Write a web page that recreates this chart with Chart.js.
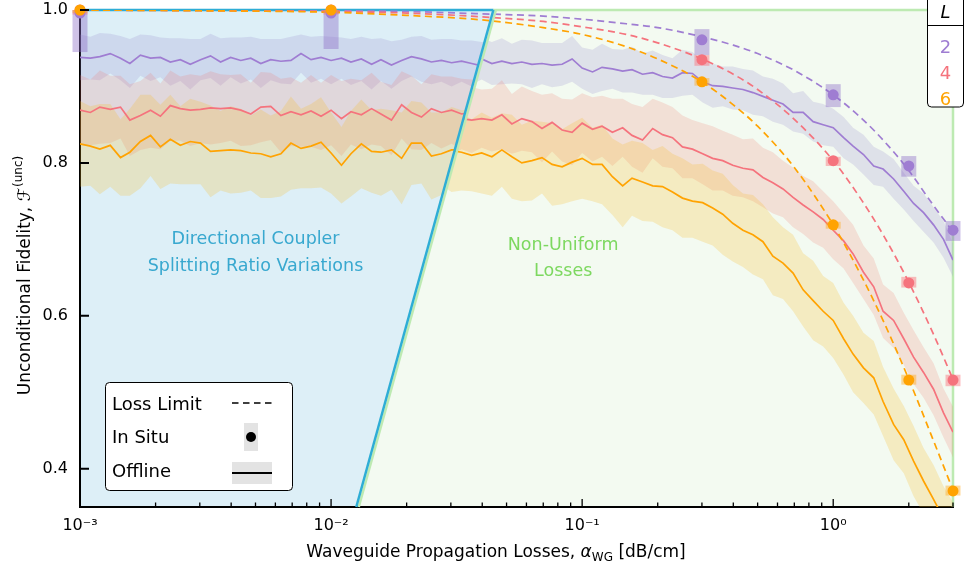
<!DOCTYPE html>
<html>
<head>
<meta charset="utf-8">
<title>Unconditional fidelity vs waveguide propagation losses</title>
<script src="https://cdn.jsdelivr.net/npm/chart.js@4.4.0/dist/chart.umd.min.js"></script>
<style>
  html, body { margin: 0; padding: 0; background: #fff; }
  canvas { display: block; }
</style>
</head>
<body>
<canvas id="fidelityChart" width="966" height="570"></canvas>
<script>
// ---- data -----------------------------------------------------------------

// offline sweep, directional coupler splitting ratio variations (dB/cm)
const alphaLeft = [0.00100, 0.00110, 0.00120, 0.00132, 0.00145, 0.00158, 0.00174, 0.00191, 0.00209, 0.00229,
  0.00251, 0.00275, 0.00302, 0.00331, 0.00363, 0.00398, 0.00437, 0.00479, 0.00525, 0.00575,
  0.00631, 0.00692, 0.00759, 0.00832, 0.00912, 0.0100, 0.0110, 0.0120, 0.0132, 0.0145,
  0.0158, 0.0174, 0.0191, 0.0209, 0.0229, 0.0251, 0.0275, 0.0302, 0.0331, 0.0363,
  0.0398, 0.0437];

// offline sweep, non-uniform losses (dB/cm)
const alphaRight = [0.0251, 0.0275, 0.0302, 0.0331, 0.0363, 0.0398, 0.0437, 0.0479, 0.0525, 0.0575,
  0.0631, 0.0692, 0.0759, 0.0832, 0.0912, 0.100, 0.110, 0.120, 0.132, 0.145,
  0.158, 0.174, 0.191, 0.209, 0.229, 0.251, 0.275, 0.302, 0.331, 0.363,
  0.398, 0.437, 0.479, 0.525, 0.575, 0.631, 0.692, 0.759, 0.832, 0.912,
  1.00, 1.10, 1.20, 1.32, 1.45, 1.58, 1.74, 1.91, 2.09, 2.29,
  2.51, 2.75, 3.00];

const purpleLeftMean = [0.938, 0.937, 0.939, 0.943, 0.937, 0.930, 0.941, 0.937, 0.938, 0.932,
  0.935, 0.929, 0.935, 0.940, 0.932, 0.938, 0.934, 0.937, 0.930, 0.935,
  0.933, 0.934, 0.943, 0.935, 0.938, 0.934, 0.937, 0.932, 0.936, 0.929,
  0.935, 0.928, 0.934, 0.939, 0.936, 0.932, 0.934, 0.931, 0.933, 0.930,
  0.927, 0.929];
const purpleLeftSd = [0.030, 0.028, 0.031, 0.026, 0.029, 0.032, 0.027, 0.030, 0.026, 0.031,
  0.028, 0.033, 0.027, 0.029, 0.031, 0.026, 0.030, 0.028, 0.032, 0.027,
  0.029, 0.031, 0.025, 0.030, 0.028, 0.031, 0.027, 0.030, 0.029, 0.033,
  0.028, 0.031, 0.027, 0.026, 0.030, 0.029, 0.028, 0.031, 0.027, 0.030,
  0.031, 0.029];

const pinkLeftMean = [0.869, 0.866, 0.873, 0.870, 0.873, 0.856, 0.862, 0.869, 0.861, 0.875,
  0.871, 0.869, 0.870, 0.872, 0.871, 0.872, 0.869, 0.864, 0.873, 0.874,
  0.862, 0.867, 0.863, 0.868, 0.861, 0.869, 0.858, 0.867, 0.863, 0.871,
  0.864, 0.856, 0.876, 0.866, 0.860, 0.871, 0.866, 0.869, 0.864, 0.866,
  0.862, 0.865];
const pinkLeftSd = [0.046, 0.043, 0.048, 0.044, 0.041, 0.047, 0.045, 0.049, 0.043, 0.046,
  0.042, 0.047, 0.044, 0.048, 0.045, 0.043, 0.047, 0.041, 0.046, 0.044,
  0.048, 0.045, 0.042, 0.047, 0.044, 0.046, 0.049, 0.043, 0.045, 0.047,
  0.042, 0.046, 0.044, 0.048, 0.043, 0.045, 0.047, 0.044, 0.046, 0.043,
  0.045, 0.044];

const orangeLeftMean = [0.825, 0.822, 0.818, 0.823, 0.807, 0.814, 0.828, 0.836, 0.821, 0.831,
  0.823, 0.828, 0.826, 0.815, 0.816, 0.817, 0.816, 0.813, 0.812, 0.808,
  0.812, 0.826, 0.819, 0.822, 0.827, 0.813, 0.797, 0.812, 0.825, 0.815,
  0.814, 0.817, 0.806, 0.826, 0.826, 0.809, 0.812, 0.817, 0.817, 0.815,
  0.812, 0.814];
const orangeLeftSd = [0.056, 0.052, 0.059, 0.054, 0.050, 0.057, 0.061, 0.053, 0.055, 0.058,
  0.051, 0.056, 0.054, 0.060, 0.052, 0.057, 0.055, 0.049, 0.058, 0.054,
  0.056, 0.061, 0.052, 0.055, 0.059, 0.053, 0.050, 0.056, 0.058, 0.054,
  0.057, 0.052, 0.060, 0.055, 0.053, 0.057, 0.054, 0.056, 0.052, 0.055,
  0.057, 0.054];

const purpleRightMean = [0.935, 0.933, 0.936, 0.932, 0.934, 0.936, 0.930, 0.933, 0.930, 0.932,
  0.929, 0.930, 0.928, 0.929, 0.936, 0.924, 0.919, 0.925, 0.923, 0.920,
  0.922, 0.916, 0.918, 0.913, 0.911, 0.918, 0.917, 0.906, 0.901, 0.900,
  0.898, 0.896, 0.892, 0.887, 0.882, 0.877, 0.866, 0.866, 0.854, 0.850,
  0.846, 0.833, 0.822, 0.811, 0.796, 0.792, 0.779, 0.763, 0.747, 0.735,
  0.719, 0.700, 0.673];
const purpleRightSd = [0.028, 0.030, 0.027, 0.029, 0.031, 0.027, 0.028, 0.030, 0.026, 0.029,
  0.031, 0.027, 0.029, 0.028, 0.030, 0.027, 0.029, 0.031, 0.026, 0.028,
  0.030, 0.027, 0.029, 0.028, 0.026, 0.030, 0.028, 0.027, 0.029, 0.026,
  0.028, 0.027, 0.029, 0.026, 0.028, 0.027, 0.025, 0.028, 0.026, 0.027,
  0.025, 0.027, 0.024, 0.026, 0.025, 0.023, 0.026, 0.024, 0.023, 0.025,
  0.023, 0.024, 0.022];

const pinkRightMean = [0.857, 0.862, 0.855, 0.858, 0.856, 0.858, 0.856, 0.863, 0.851, 0.858,
  0.854, 0.845, 0.853, 0.843, 0.840, 0.852, 0.844, 0.848, 0.840, 0.846,
  0.836, 0.830, 0.845, 0.837, 0.833, 0.821, 0.818, 0.812, 0.806, 0.803,
  0.797, 0.793, 0.791, 0.781, 0.774, 0.766, 0.755, 0.745, 0.736, 0.726,
  0.712, 0.698, 0.681, 0.657, 0.638, 0.606, 0.594, 0.570, 0.546, 0.526,
  0.504, 0.473, 0.448];
const pinkRightSd = [0.042, 0.039, 0.044, 0.040, 0.043, 0.038, 0.041, 0.045, 0.039, 0.042,
  0.040, 0.044, 0.038, 0.041, 0.043, 0.039, 0.042, 0.040, 0.044, 0.038,
  0.041, 0.043, 0.039, 0.042, 0.040, 0.041, 0.038, 0.040, 0.042, 0.039,
  0.040, 0.038, 0.041, 0.039, 0.040, 0.037, 0.039, 0.038, 0.040, 0.037,
  0.038, 0.036, 0.038, 0.035, 0.037, 0.035, 0.036, 0.034, 0.035, 0.033,
  0.034, 0.032, 0.033];

const orangeRightMean = [0.818, 0.820, 0.816, 0.814, 0.810, 0.813, 0.808, 0.817, 0.808, 0.800,
  0.803, 0.807, 0.798, 0.795, 0.801, 0.806, 0.798, 0.798, 0.782, 0.770,
  0.780, 0.775, 0.770, 0.769, 0.762, 0.754, 0.750, 0.748, 0.741, 0.733,
  0.721, 0.712, 0.706, 0.697, 0.678, 0.669, 0.656, 0.634, 0.620, 0.606,
  0.594, 0.570, 0.550, 0.532, 0.519, 0.488, 0.458, 0.438, 0.410, 0.384,
  0.360, 0.335, 0.312];
const orangeRightSd = [0.052, 0.049, 0.054, 0.050, 0.047, 0.053, 0.051, 0.048, 0.055, 0.050,
  0.052, 0.047, 0.054, 0.049, 0.051, 0.053, 0.048, 0.052, 0.050, 0.054,
  0.049, 0.051, 0.047, 0.053, 0.050, 0.052, 0.048, 0.051, 0.049, 0.053,
  0.050, 0.048, 0.052, 0.049, 0.051, 0.047, 0.050, 0.048, 0.052, 0.046,
  0.049, 0.047, 0.050, 0.046, 0.048, 0.045, 0.047, 0.044, 0.046, 0.043,
  0.045, 0.042, 0.044];

// loss limit (dashed)
const limitAlpha = [0.001, 0.003, 0.01, 0.02, 0.04, 0.07, 0.1, 0.15, 0.2, 0.3, 0.4, 0.5, 0.7, 1.0, 1.3, 1.6, 2.0, 2.5, 3.0];
const limitL2 = [1.000, 1.000, 0.999, 0.998, 0.995, 0.992, 0.988, 0.982, 0.977, 0.965, 0.954, 0.943, 0.921, 0.889, 0.858, 0.828, 0.790, 0.745, 0.710];
const limitL4 = [1.000, 0.999, 0.998, 0.996, 0.991, 0.985, 0.978, 0.968, 0.957, 0.936, 0.916, 0.896, 0.857, 0.803, 0.751, 0.703, 0.644, 0.577, 0.517];
const limitL6 = [1.000, 0.999, 0.997, 0.993, 0.987, 0.977, 0.968, 0.952, 0.936, 0.906, 0.876, 0.848, 0.794, 0.719, 0.651, 0.590, 0.517, 0.438, 0.372];

// in situ measurements with their spread
const insituAlpha = [0.001, 0.01, 0.3, 1, 2, 3];
const insituL2 = [0.996, 0.996, 0.961, 0.889, 0.796, 0.712];
const insituL2Lo = [0.945, 0.949, 0.941, 0.873, 0.782, 0.698];
const insituL2Hi = [1.000, 1.000, 0.975, 0.903, 0.809, 0.724];
const insituL4 = [1.000, 1.000, 0.935, 0.803, 0.643, 0.516];
const insituL4Lo = [0.994, 0.994, 0.927, 0.796, 0.637, 0.508];
const insituL4Hi = [1.000, 1.000, 0.941, 0.808, 0.651, 0.523];
const insituL6 = [1.000, 1.000, 0.906, 0.719, 0.516, 0.371];
const insituL6Lo = [0.996, 0.996, 0.901, 0.714, 0.510, 0.365];
const insituL6Hi = [1.000, 1.000, 0.911, 0.723, 0.523, 0.378];

// regions: edge between the two shaded areas
const edgeAlphaTop = 0.0443;
const edgeAlphaBottom = 0.0126;

const xTickValues = [0.001, 0.01, 0.1, 1];
const xTickLabels = ['10\u207B\u00B3', '10\u207B\u00B2', '10\u207B\u00B9', '10\u2070'];
const yTickValues = [0.4, 0.6, 0.8, 1.0];

// ---- styling ----------------------------------------------------------------
const FONT = "'DejaVu Sans', sans-serif";
Chart.defaults.font.family = FONT;
Chart.defaults.font.size = 16;
Chart.defaults.color = '#000';

const blueFill = '#ddeff7', blueEdge = '#2eadd5', blueText = '#38a8cf';
const greenFill = '#f3faf1', greenEdge = '#bdeab2', greenText = '#7dd860';

const series = [
  { L: '2', color: '#9f7dd2', band: 'rgba(150,135,205,0.22)', rect: 'rgba(140,110,200,0.42)',
    meanLeft: purpleLeftMean, sdLeft: purpleLeftSd, meanRight: purpleRightMean, sdRight: purpleRightSd,
    limit: limitL2, insitu: insituL2, lo: insituL2Lo, hi: insituL2Hi },
  { L: '4', color: '#f5737d', band: 'rgba(240,120,110,0.2)', rect: 'rgba(250,110,120,0.45)',
    meanLeft: pinkLeftMean, sdLeft: pinkLeftSd, meanRight: pinkRightMean, sdRight: pinkRightSd,
    limit: limitL4, insitu: insituL4, lo: insituL4Lo, hi: insituL4Hi },
  { L: '6', color: '#ffa302', band: 'rgba(245,190,40,0.24)', rect: 'rgba(255,170,30,0.45)',
    meanLeft: orangeLeftMean, sdLeft: orangeLeftSd, meanRight: orangeRightMean, sdRight: orangeRightSd,
    limit: limitL6, insitu: insituL6, lo: insituL6Lo, hi: insituL6Hi }
];

// ---- region helpers -----------------------------------------------------------
function regionPath(chart, region) {
  const x = chart.scales.x, y = chart.scales.y, ctx = chart.ctx;
  const xl = x.getPixelForValue(x.min), xr = x.getPixelForValue(x.max);
  const xt = x.getPixelForValue(edgeAlphaTop), xb = x.getPixelForValue(edgeAlphaBottom);
  const yt = y.getPixelForValue(y.max), yb = y.getPixelForValue(y.min);
  ctx.beginPath();
  if (region === 'dc') {
    ctx.moveTo(xl, yb); ctx.lineTo(xl, yt); ctx.lineTo(xt, yt); ctx.lineTo(xb, yb);
  } else {
    ctx.moveTo(xb, yb); ctx.lineTo(xt, yt); ctx.lineTo(xr, yt); ctx.lineTo(xr, yb);
  }
  ctx.closePath();
}

// clips the offline sweeps to their region (must run before the filler)
const regionClip = {
  id: 'regionClip',
  beforeDatasetDraw(chart, args) {
    const ds = chart.data.datasets[args.index];
    if (!ds.region) return;
    chart.ctx.save();
    regionPath(chart, ds.region);
    chart.ctx.clip();
  },
  afterDatasetDraw(chart, args) {
    if (chart.data.datasets[args.index].region) chart.ctx.restore();
  }
};
Chart.unregister(Chart.Filler);
Chart.register(regionClip, Chart.Filler);

const decor = {
  id: 'decor',
  beforeDraw(chart) {
    const ctx = chart.ctx;
    ctx.save();
    regionPath(chart, 'nu'); ctx.fillStyle = greenFill; ctx.fill();
    regionPath(chart, 'dc'); ctx.fillStyle = blueFill; ctx.fill();
    ctx.restore();
  },
  beforeDatasetsDraw(chart) {
    const {ctx, chartArea: a} = chart;
    const xt = chart.scales.x.getPixelForValue(edgeAlphaTop);
    ctx.save();
    ctx.lineWidth = 2.5;
    ctx.strokeStyle = greenEdge;
    ctx.beginPath(); ctx.moveTo(xt, a.top); ctx.lineTo(a.right, a.top); ctx.lineTo(a.right, a.bottom); ctx.stroke();
    ctx.strokeStyle = blueEdge;
    ctx.beginPath(); ctx.moveTo(a.left, a.top); ctx.lineTo(xt, a.top); ctx.stroke();
    ctx.restore();
  },
  afterDatasetsDraw(chart) {
    const {ctx, chartArea: a} = chart;
    const x = chart.scales.x;
    const xt = x.getPixelForValue(edgeAlphaTop), xb = x.getPixelForValue(edgeAlphaBottom);
    ctx.save();
    ctx.lineWidth = 2.5;
    ctx.strokeStyle = greenEdge;
    ctx.beginPath(); ctx.moveTo(xb + 2.5, a.bottom); ctx.lineTo(xt + 2.5, a.top); ctx.stroke();
    ctx.strokeStyle = blueEdge;
    ctx.beginPath(); ctx.moveTo(xb, a.bottom); ctx.lineTo(xt, a.top); ctx.stroke();
    ctx.restore();
  },
  afterDraw(chart) {
    const {ctx, chartArea: a} = chart;
    const xs = chart.scales.x, ys = chart.scales.y;
    ctx.save();

    // inward ticks
    ctx.strokeStyle = '#000';
    ctx.lineWidth = 1.3;
    ctx.beginPath();
    for (let e = -3; e <= 0; e++) {
      for (let m = 1; m <= 9; m++) {
        const v = m * Math.pow(10, e);
        if (v > xs.max + 1e-9) break;
        const px = xs.getPixelForValue(v);
        ctx.moveTo(px, a.bottom);
        ctx.lineTo(px, a.bottom - (m === 1 ? 8 : 4.5));
      }
    }
    ctx.stroke();
    ctx.lineWidth = 2;
    ctx.beginPath();
    yTickValues.forEach(v => {
      const py = ys.getPixelForValue(v);
      ctx.moveTo(a.left, py); ctx.lineTo(a.left + 9, py);
    });
    ctx.stroke();

    // x title
    ctx.fillStyle = '#000';
    ctx.textBaseline = 'alphabetic';
    ctx.textAlign = 'left';
    const t1 = 'Waveguide Propagation Losses, ', t3 = ' [dB/cm]';
    ctx.font = `17px ${FONT}`;
    const w1 = ctx.measureText(t1).width, w3 = ctx.measureText(t3).width;
    ctx.font = `italic 17px ${FONT}`;
    const wa = ctx.measureText('\u03B1').width;
    ctx.font = `12px ${FONT}`;
    const w2 = ctx.measureText('WG').width;
    let x0 = 496 - (w1 + wa + w2 + w3) / 2;
    const by = 557;
    ctx.font = `17px ${FONT}`; ctx.fillText(t1, x0, by); x0 += w1;
    ctx.font = `italic 17px ${FONT}`; ctx.fillText('\u03B1', x0, by); x0 += wa;
    ctx.font = `12px ${FONT}`; ctx.fillText('WG', x0, by + 4); x0 += w2;
    ctx.font = `17px ${FONT}`; ctx.fillText(t3, x0, by);

    // y title
    const m1 = 'Unconditional Fidelity, ', m2 = '\u2131', m3 = '(unc)';
    ctx.font = `17px ${FONT}`;
    const v1 = ctx.measureText(m1).width, v2 = ctx.measureText(m2).width;
    ctx.font = `12px ${FONT}`;
    const v3 = ctx.measureText(m3).width;
    ctx.save();
    ctx.translate(30, 276 + (v1 + v2 + v3) / 2);
    ctx.rotate(-Math.PI / 2);
    ctx.font = `17px ${FONT}`;
    ctx.fillText(m1, 0, 0);
    ctx.fillText(m2, v1, 0);
    ctx.font = `12px ${FONT}`;
    ctx.fillText(m3, v1 + v2 + 1, -8);
    ctx.restore();

    // region labels
    ctx.textAlign = 'center';
    ctx.font = `17.5px ${FONT}`;
    ctx.fillStyle = blueText;
    let lx = xs.getPixelForValue(0.0050), ly = ys.getPixelForValue(0.694);
    ctx.fillText('Directional Coupler', lx, ly);
    ctx.fillText('Splitting Ratio Variations', lx, ly + 27);
    ctx.fillStyle = greenText;
    lx = xs.getPixelForValue(0.084); ly = ys.getPixelForValue(0.686);
    ctx.fillText('Non-Uniform', lx, ly);
    ctx.fillText('Losses', lx, ly + 26);

    // method legend
    ctx.textAlign = 'left';
    ctx.fillStyle = '#fff';
    ctx.strokeStyle = '#000';
    ctx.lineWidth = 1;
    ctx.beginPath(); ctx.roundRect(105.5, 382.5, 187, 108, 4); ctx.fill(); ctx.stroke();
    ctx.fillStyle = '#000';
    ctx.font = `18px ${FONT}`;
    ctx.fillText('Loss Limit', 112, 410);
    ctx.fillText('In Situ', 112, 443);
    ctx.fillText('Offline', 112, 477);
    ctx.lineWidth = 1.5;
    ctx.setLineDash([6.5, 4.5]);
    ctx.beginPath(); ctx.moveTo(232, 403); ctx.lineTo(272, 403); ctx.stroke();
    ctx.setLineDash([]);
    ctx.fillStyle = '#e3e3e3';
    ctx.fillRect(244, 423, 14, 28);
    ctx.fillRect(232, 462, 40, 22);
    ctx.fillStyle = '#000';
    ctx.beginPath(); ctx.arc(251, 437, 5, 0, Math.PI * 2); ctx.fill();
    ctx.lineWidth = 2;
    ctx.beginPath(); ctx.moveTo(232, 473); ctx.lineTo(272, 473); ctx.stroke();

    // L legend
    ctx.lineWidth = 1;
    ctx.fillStyle = '#fff';
    ctx.beginPath(); ctx.roundRect(927.5, -6, 36, 113, 4); ctx.fill(); ctx.stroke();
    ctx.beginPath(); ctx.moveTo(927.5, 25.5); ctx.lineTo(963.5, 25.5); ctx.stroke();
    ctx.textAlign = 'center';
    ctx.fillStyle = '#000';
    ctx.font = `italic 18px ${FONT}`;
    ctx.fillText('L', 945.5, 18);
    ctx.font = `18px ${FONT}`;
    series.forEach((s, k) => {
      ctx.fillStyle = s.color;
      ctx.fillText(s.L, 945.5, 53 + 26 * k);
    });
    ctx.restore();
  }
};

// ---- datasets -----------------------------------------------------------------
const datasets = [];
series.forEach((s, k) => {
  [['dc', alphaLeft, s.meanLeft, s.sdLeft], ['nu', alphaRight, s.meanRight, s.sdRight]].forEach(([region, xs, mean, sd]) => {
    datasets.push({ type: 'line', region, data: xs.map((x, i) => ({x, y: mean[i] + sd[i]})),
      fill: '+1', backgroundColor: s.band, borderColor: 'transparent', borderWidth: 0, pointRadius: 0, order: 30 - k });
    datasets.push({ type: 'line', region, data: xs.map((x, i) => ({x, y: mean[i] - sd[i]})),
      fill: false, borderColor: 'transparent', borderWidth: 0, pointRadius: 0, order: 30 - k });
    datasets.push({ type: 'line', region, data: xs.map((x, i) => ({x, y: mean[i]})),
      fill: false, borderColor: s.color, borderWidth: 1.7, pointRadius: 0, order: 20 - k });
  });
  datasets.push({ type: 'line', data: limitAlpha.map((x, i) => ({x, y: s.limit[i]})),
    fill: false, borderColor: s.color, borderWidth: 1.7, borderDash: [7, 4.5], pointRadius: 0,
    cubicInterpolationMode: 'monotone', order: 10 - k });
  datasets.push({ type: 'bar', data: insituAlpha.map((x, i) => ({x, y: [s.lo[i], s.hi[i]]})),
    backgroundColor: s.rect, borderWidth: 0, maxBarThickness: 15, grouped: false, clip: false, order: 5 - k });
  datasets.push({ type: 'scatter', data: insituAlpha.map((x, i) => ({x, y: s.insitu[i]})),
    backgroundColor: s.color, pointBackgroundColor: s.color, borderWidth: 0, pointBorderWidth: 0,
    pointRadius: 5.5, showLine: false, clip: false, order: 2 - k });
});

new Chart(document.getElementById('fidelityChart'), {
  type: 'scatter',
  data: { datasets },
  plugins: [decor],
  options: {
    responsive: false,
    animation: false,
    events: [],
    layout: { autoPadding: false, padding: { top: 10, right: 13, left: 0, bottom: 0 } },
    plugins: { legend: { display: false }, tooltip: { enabled: false } },
    scales: {
      x: {
        type: 'logarithmic', min: 0.001, max: 3, offset: false,
        grid: { display: false, drawTicks: true, tickLength: 9 },
        border: { display: true, color: '#000', width: 2 },
        ticks: { autoSkip: false, maxRotation: 0, padding: 0, font: { size: 16 },
          callback: (v, i) => xTickLabels[i] },
        afterBuildTicks: s => { s.ticks = xTickValues.map(v => ({ value: v })); },
        afterFit: s => { s.height = 63; }
      },
      y: {
        min: 0.35, max: 1.0,
        grid: { display: false, drawTicks: true, tickLength: 12 },
        border: { display: true, color: '#000', width: 2 },
        ticks: { padding: 0, font: { size: 16 }, callback: v => v.toFixed(1) },
        afterBuildTicks: s => { s.ticks = yTickValues.map(v => ({ value: v })); },
        afterFit: s => { s.width = 80; }
      }
    }
  }
});
</script>
</body>
</html>
